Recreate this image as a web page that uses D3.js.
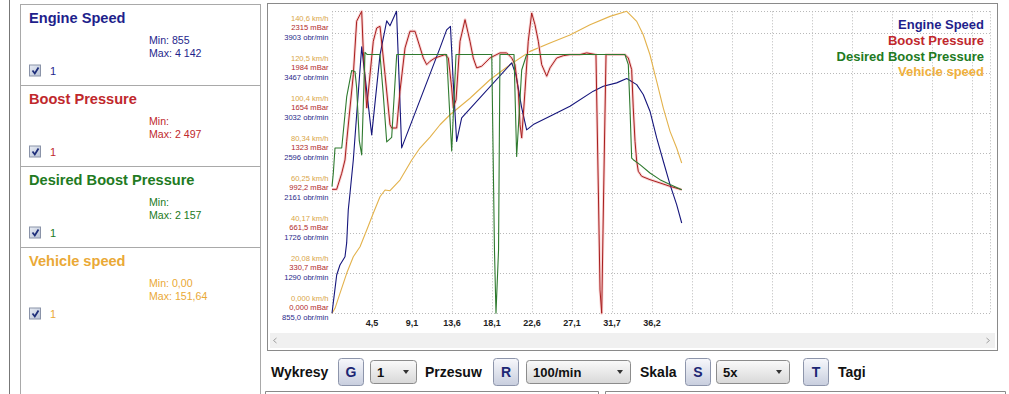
<!DOCTYPE html>
<html><head><meta charset="utf-8">
<script src="https://cdn.jsdelivr.net/npm/d3@7"></script>
<style>body{margin:0;background:#fff;overflow:hidden}svg{display:block}</style>
</head><body><svg id="c" width="1009" height="394"></svg>
<script>
// ---------- data ----------
const seriesNames = ["Engine Speed", "Boost Pressure", "Desired Boost Pressure", "Vehicle speed"];
const seriesMin = ["855", "", "", "0,00"];
const seriesMax = ["4 142", "2 497", "2 157", "151,64"];

const engineT = [0,0.23,0.53,0.9,1.47,1.66,1.84,2.04,2.41,3.36,4.49,5.43,6.19,6.56,7.3,7.5,7.88,12.22,12.97,13.4,13.72,14.1,14.67,20.33,20.81,21.46,22.02,22.77,24.66,26.92,29.56,30.69,32.2,33.34,34.47,35.21,35.97,36.73,37.48,38.24,38.99,39.56];
const engineRpm = [855,1036,1272,1381,1471,1621,1980,2165,2524,3755,2797,3668,4038,3984,4142,3635,2655,3744,3940,3978,3363,2726,2982,3581,3450,3091,2851,2909,3000,3109,3273,3327,3363,3410,3344,3236,3055,2764,2510,2255,2038,1838];

const boostT = [0,0.53,1.1,1.47,1.66,2.41,2.79,3.36,3.54,3.93,4.67,5.06,5.43,6.0,6.56,6.75,7.32,7.69,8.26,8.82,9.39,10.33,10.71,11.09,11.65,12.78,13.16,13.54,13.72,14.03,14.48,15.05,15.61,15.98,16.37,16.93,17.87,19.0,19.76,20.33,20.7,21.08,21.27,21.46,21.83,22.2,22.59,22.96,23.34,23.72,24.29,24.66,25.42,26.17,26.92,28.05,28.81,29.86,30.15,30.32,30.51,30.66,30.83,31.0,33.14,33.52,33.9,34.08,34.28,34.47,34.65,35.03,35.97,37.1,38.24,39.56];
const boostMbar = [1025,1025,1158,1268,1422,1973,2415,2497,2167,1698,2249,2359,2373,1973,1560,1532,1532,1836,2194,2332,2332,2111,2056,2084,2111,2139,2111,1863,1698,1764,2249,2428,2249,2111,2029,2043,2111,2153,2153,2111,2056,1836,1560,1450,1836,2249,2483,2387,2249,2056,1960,2029,2111,2130,2139,2139,2153,2139,937,193,0,689,1433,2139,2139,2111,2015,1698,1422,1257,1174,1133,1105,1078,1050,1022];

const desiredT = [0,0.15,0.34,0.53,1.1,1.66,2.23,2.6,2.79,3.09,3.36,3.73,3.96,5.43,5.8,6.19,6.75,7.32,7.88,12.97,13.54,14.03,18.07,18.38,18.55,18.84,19.0,20.59,20.89,21.46,22.02,33.14,33.52,33.71,33.9,34.08,34.84,35.97,37.1,38.24,39.56];
const desiredMbar = [1047,1160,1367,1367,1367,1789,2008,2000,1863,1425,1309,2157,2140,2140,1808,1417,1454,2140,2140,2140,1342,2140,2140,523,0,523,2140,2140,1297,2012,2140,2140,2056,1698,1284,1270,1229,1160,1105,1064,1022];

const speedT = [0,0.34,0.9,1.66,2.41,3.17,3.93,4.67,5.43,6.0,6.56,7.69,9.02,9.95,11.09,12.22,13.35,15.61,17.87,20.14,22.4,24.66,26.92,29.19,31.45,33.34,34.47,35.21,35.97,36.73,37.48,38.24,38.99,39.56];
const speedKmh = [0,2.51,10.04,20.08,28.41,33.43,41.82,50.2,58.53,61.9,61.55,66.92,76.96,82.98,88.5,94.68,99.7,107.98,117.27,124.8,131.52,135.69,139.71,144.88,149.09,151.64,146.58,139.86,129.82,116.46,103.06,91.36,82.98,75.45];

const xGridStep = 4.525;
const xTickLabels = ["4,5","9,1","13,6","18,1","22,6","27,1","31,7","36,2"];
const rpmTicks = [855,1290,1726,2161,2596,3032,3467,3903];
const rpmLabels = ["855,0 obr/min","1290 obr/min","1726 obr/min","2161 obr/min","2596 obr/min","3032 obr/min","3467 obr/min","3903 obr/min"];
const mbarTicks = [0,330.7,661.5,992.2,1323,1654,1984,2315];
const mbarLabels = ["0,000 mBar","330,7 mBar","661,5 mBar","992,2 mBar","1323 mBar","1654 mBar","1984 mBar","2315 mBar"];
const kmhTicks = [0,20.08,40.17,60.25,80.34,100.4,120.5,140.6];
const kmhLabels = ["0,000 km/h","20,08 km/h","40,17 km/h","60,25 km/h","80,34 km/h","100,4 km/h","120,5 km/h","140,6 km/h"];

// ---------- styles ----------
const F = "'Liberation Sans', Arial, Helvetica, sans-serif";
const textCol = ["#1f1f8c", "#c0282c", "#227a22", "#eaa936"];
const lineCol = ["#16167c", "#a81e1e", "#2f7a2f", "#e3b24c"];
const labCol = ["#2a2a8a", "#b02828", "#2a7a2a", "#d9a548"];

const svg = d3.select("#c");

// ---------- left panel ----------
svg.append("line").attr("x1",9.5).attr("x2",9.5).attr("y1",0).attr("y2",394).attr("stroke","#777");
svg.append("rect").attr("x",20.5).attr("y",4.5).attr("width",240).attr("height",400)
  .attr("fill","#fff").attr("stroke","#a9a9a9");
const defs = svg.append("defs");
const cbg = defs.append("linearGradient").attr("id","cbg").attr("x1",0).attr("y1",0).attr("x2",1).attr("y2",1);
cbg.append("stop").attr("offset","0%").attr("stop-color","#e8ecf4");
cbg.append("stop").attr("offset","100%").attr("stop-color","#b9c3d6");
const btng = defs.append("linearGradient").attr("id","btng").attr("x1",0).attr("y1",0).attr("x2",0).attr("y2",1);
btng.append("stop").attr("offset","0%").attr("stop-color","#f7f8fc");
btng.append("stop").attr("offset","100%").attr("stop-color","#c8cede");
const ddg = defs.append("linearGradient").attr("id","ddg").attr("x1",0).attr("y1",0).attr("x2",0).attr("y2",1);
ddg.append("stop").attr("offset","0%").attr("stop-color","#fafafa");
ddg.append("stop").attr("offset","100%").attr("stop-color","#d8d8d8");

const secTops = [4.5, 85.5, 166.5, 247.5];
seriesNames.forEach((name, i) => {
  const t = secTops[i];
  if (i > 0) svg.append("line").attr("x1",20.5).attr("x2",260.5).attr("y1",t).attr("y2",t).attr("stroke","#a9a9a9");
  svg.append("text").attr("x",29).attr("y",t+18).attr("font-family",F).attr("font-size","14.6px")
    .attr("font-weight","bold").attr("fill",textCol[i]).text(name);
  svg.append("text").attr("x",149).attr("y",t+39).attr("font-family",F).attr("font-size","10.6px")
    .attr("fill",textCol[i]).text("Min: " + seriesMin[i]);
  svg.append("text").attr("x",149).attr("y",t+52.5).attr("font-family",F).attr("font-size","10.6px")
    .attr("fill",textCol[i]).text("Max: " + seriesMax[i]);
  const cy = t + 60.5;
  svg.append("rect").attr("x",29.5).attr("y",cy).attr("width",11).attr("height",11)
    .attr("fill","url(#cbg)").attr("stroke","#8a93a8");
  svg.append("path").attr("d",`M32.5,${cy+5.5} L34.8,${cy+8.5} L38.5,${cy+2.5}`)
    .attr("fill","none").attr("stroke","#1f2f7a").attr("stroke-width",1.8);
  svg.append("text").attr("x",50).attr("y",cy+9.5).attr("font-family",F).attr("font-size","11px")
    .attr("fill",textCol[i]).text("1");
});

// ---------- chart frame ----------
svg.append("rect").attr("x",267.5).attr("y",3.5).attr("width",730).attr("height",347)
  .attr("fill","#fff").attr("stroke","#8a8a8a");
svg.append("rect").attr("x",270).attr("y",333).attr("width",725).attr("height",15).attr("fill","#f0f0f0");
svg.append("path").attr("d","M276.5,338 L273.5,340.5 L276.5,343").attr("fill","none").attr("stroke","#a0a0a0");
svg.append("path").attr("d","M986.5,338 L989.5,340.5 L986.5,343").attr("fill","none").attr("stroke","#a0a0a0");

// ---------- scales ----------
const x = d3.scaleLinear().domain([0, xGridStep * 16.45]).range([332, 990]);
const yTop = 11.3, yBot = 313.3;
const yRpm = d3.scaleLinear().domain([855, 4142]).range([yBot, yTop]);
const yMbar = d3.scaleLinear().domain([0, 2497]).range([yBot, yTop]);
const yKmh = d3.scaleLinear().domain([0, 151.64]).range([yBot, yTop]);

// grid
const grid = svg.append("g").attr("stroke","#b9b9b9").attr("stroke-dasharray","1,2").attr("fill","none");
d3.range(0, 17).forEach(i => {
  const gx = Math.round(x(i * xGridStep)) + 0.5;
  grid.append("line").attr("x1",gx).attr("x2",gx).attr("y1",yTop).attr("y2",yBot);
});
grid.append("line").attr("x1",990.5).attr("x2",990.5).attr("y1",yTop).attr("y2",yBot);
rpmTicks.forEach(v => {
  const gy = Math.round(yRpm(v)) + 0.5;
  grid.append("line").attr("x1",332).attr("x2",990.5).attr("y1",gy).attr("y2",gy);
});
grid.append("line").attr("x1",332).attr("x2",990.5).attr("y1",Math.round(yTop)+0.5).attr("y2",Math.round(yTop)+0.5);

// x tick labels
xTickLabels.forEach((lab, i) => {
  svg.append("text").attr("x", x((i + 1) * xGridStep)).attr("y", 325.5).attr("text-anchor","middle")
    .attr("font-family",F).attr("font-size","9px").attr("font-weight","bold").attr("fill","#222").text(lab);
});

// y tick labels (three stacked axes)
const yl = svg.append("g").attr("font-family",F).attr("font-size","7.6px").attr("text-anchor","end");
kmhTicks.forEach((v, i) => yl.append("text").attr("x",328.5).attr("y", yKmh(v) - 12.6).attr("fill",labCol[3]).text(kmhLabels[i]));
mbarTicks.forEach((v, i) => yl.append("text").attr("x",328.5).attr("y", yMbar(v) - 3.4).attr("fill",labCol[1]).text(mbarLabels[i]));
rpmTicks.forEach((v, i) => yl.append("text").attr("x",328.5).attr("y", yRpm(v) + 6.6).attr("fill",labCol[0]).text(rpmLabels[i]));

// ---------- lines ----------
function series(tArr, vArr, yS) {
  return d3.line().x((d, i) => x(tArr[i])).y(d => yS(d))(vArr);
}
const plot = svg.append("g").attr("fill","none").attr("stroke-linejoin","round");
plot.append("path").attr("d", series(speedT, speedKmh, yKmh)).attr("stroke", lineCol[3]).attr("stroke-width",1.1);
plot.append("path").attr("d", series(boostT, boostMbar, yMbar)).attr("stroke","#f8d2d2").attr("stroke-width",2.8);
plot.append("path").attr("d", series(engineT, engineRpm, yRpm)).attr("stroke", lineCol[0]).attr("stroke-width",1.1);
plot.append("path").attr("d", series(boostT, boostMbar, yMbar)).attr("stroke", lineCol[1]).attr("stroke-width",1);
plot.append("path").attr("d", series(desiredT, desiredMbar, yMbar)).attr("stroke", lineCol[2]).attr("stroke-width",1.1);

// legend
seriesNames.forEach((name, i) => {
  svg.append("text").attr("x",984).attr("y",29.3 + i * 15.7).attr("text-anchor","end")
    .attr("font-family",F).attr("font-size","13px").attr("font-weight","bold")
    .attr("fill", i === 3 ? "#f0b13e" : textCol[i]).text(name);
});

// ---------- bottom controls ----------
const ctl = svg.append("g").attr("font-family",F);
function label(xp, txt) {
  ctl.append("text").attr("x",xp).attr("y",377).attr("font-size","14px").attr("font-weight","bold").attr("fill","#111").text(txt);
}
function button(xp, letter) {
  ctl.append("rect").attr("x",xp+0.5).attr("y",358.5).attr("width",25).attr("height",27).attr("rx",3)
    .attr("fill","url(#btng)").attr("stroke","#8d95ab");
  ctl.append("text").attr("x",xp+13).attr("y",377).attr("text-anchor","middle").attr("font-size","14px")
    .attr("font-weight","bold").attr("fill","#1c2674").text(letter);
}
function dropdown(xp, w, txt) {
  ctl.append("rect").attr("x",xp+0.5).attr("y",360.5).attr("width",w).attr("height",23).attr("rx",3)
    .attr("fill","url(#ddg)").attr("stroke","#8c8c8c");
  ctl.append("text").attr("x",xp+7).attr("y",377).attr("font-size","13px").attr("font-weight","bold").attr("fill","#111").text(txt);
  const tx = xp + w - 10;
  ctl.append("path").attr("d",`M${tx-3},370 L${tx+3},370 L${tx},374 Z`).attr("fill","#333");
}
label(271, "Wykresy");
button(338, "G");
dropdown(370, 46, "1");
label(425, "Przesuw");
button(493, "R");
dropdown(526, 104, "100/min");
label(640, "Skala");
button(685, "S");
dropdown(716, 73, "5x");
button(803, "T");
label(838, "Tagi");

svg.append("path").attr("d","M265.5,394 L265.5,391.5 L598.5,391.5 L598.5,394").attr("fill","none").attr("stroke","#8a8a8a");
svg.append("path").attr("d","M605.5,394 L605.5,391.5 L1005.5,391.5 L1005.5,394").attr("fill","none").attr("stroke","#8a8a8a");
</script>
</body></html>
